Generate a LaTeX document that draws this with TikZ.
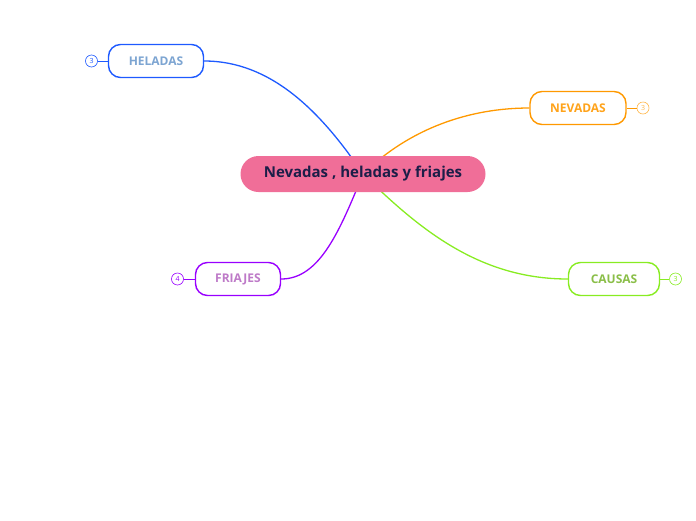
\documentclass[tikz,border=0pt]{standalone}
\usepackage{fontspec}
\setmainfont{Open Sans}
\usetikzlibrary{positioning, backgrounds}

\definecolor{rootpink}{RGB}{240,110,152}
\definecolor{rootink}{RGB}{28,30,72}
\definecolor{helblue}{RGB}{30,90,255}
\definecolor{heltext}{RGB}{125,165,210}
\definecolor{nevorange}{RGB}{255,153,0}
\definecolor{nevtext}{RGB}{255,163,26}
\definecolor{caugreen}{RGB}{136,236,34}
\definecolor{cautext}{RGB}{138,190,72}
\definecolor{friviolet}{RGB}{153,0,255}
\definecolor{fritext}{RGB}{190,122,200}

\begin{document}
\begin{tikzpicture}[
		x=1pt, y=-1pt,
		% Style du noeud central
		central/.style={
			fill=rootpink,
			draw=none,
			rounded corners=18pt,
			text=rootink,
			font=\bfseries\fontsize{15}{17}\selectfont,
			minimum width=245pt,
			minimum height=36pt,
			inner sep=0pt
		},
		% Style des branches
		topic/.style={
			draw=#1,
			fill=white,
			line width=1.4pt,
			rounded corners=12pt,
			font=\bfseries\fontsize{12}{14}\selectfont,
			minimum height=33pt,
			inner sep=0pt
		},
		% Petits compteurs
		badge/.style={
			draw=#1,
			fill=white,
			circle,
			line width=0.6pt,
			minimum size=12pt,
			inner sep=0pt,
			text=#1,
			font=\fontsize{7}{8}\selectfont
		},
		link/.style={line width=1.3pt}
		]
		\useasboundingbox (0,0) rectangle (696,520);
		
		% --- NOEUDS ---
		\node[central] (root) at (363,174) {Nevadas , heladas y friajes};
		
		\node[topic=helblue, text=heltext, minimum width=95pt] (heladas) at (156,61) {HELADAS};
		\node[topic=nevorange, text=nevtext, minimum width=96pt] (nevadas) at (578,108) {NEVADAS};
		\node[topic=caugreen, text=cautext, minimum width=91pt] (causas) at (614,279) {CAUSAS};
		\node[topic=friviolet, text=fritext, minimum width=85pt] (friajes) at (238,279) {FRIAJES};
		
		% --- COMPTEURS ---
		\node[badge=helblue, left=10pt of heladas] (bh) {3};
		\node[badge=nevorange!70, right=10pt of nevadas] (bn) {3};
		\node[badge=caugreen, right=9pt of causas] (bc) {3};
		\node[badge=friviolet, left=11pt of friajes] (bf) {4};
		
		\draw[helblue, line width=0.8pt] (bh) -- (heladas);
		\draw[nevorange, line width=0.8pt] (nevadas) -- (bn);
		\draw[caugreen, line width=0.8pt] (causas) -- (bc);
		\draw[friviolet, line width=0.8pt] (bf) -- (friajes);
		
		% --- BRANCHES ---
		\begin{scope}[on background layer]
			\draw[link, helblue] (heladas.east) .. controls (270,61) and (320,110) .. (root.center);
			\draw[link, nevorange] (nevadas.west) .. controls (470,108) and (410,128) .. (root.center);
			\draw[link, caugreen] (causas.west) .. controls (480,279) and (420,230) .. (root.center);
			\draw[link, friviolet] (friajes.east) .. controls (320,279) and (340,230) .. (root.center);
		\end{scope}
		
	\end{tikzpicture}
\end{document}
